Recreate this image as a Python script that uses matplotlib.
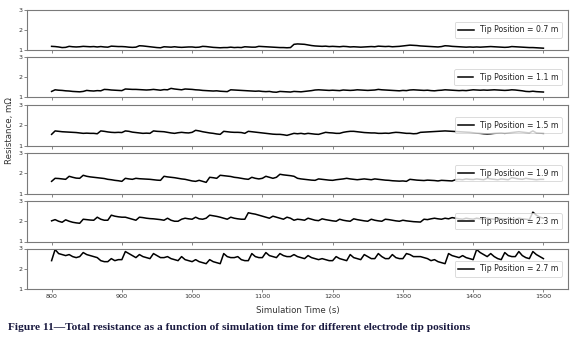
import numpy as np
import matplotlib
matplotlib.use("Agg")
import matplotlib.pyplot as plt

time_s = np.arange(800, 1501, 5)

tip_labels = ["Tip Position = 0.7 m", "Tip Position = 1.1 m", "Tip Position = 1.5 m",
              "Tip Position = 1.9 m", "Tip Position = 2.3 m", "Tip Position = 2.7 m"]

r_07 = [1.18,1.17,1.15,1.12,1.13,1.18,1.16,1.15,1.16,1.18,1.17,1.16,1.17,1.15,1.17,1.15,1.14,1.19,1.18,1.17,
        1.17,1.16,1.14,1.13,1.14,1.21,1.2,1.18,1.16,1.14,1.12,1.11,1.16,1.15,1.14,1.16,1.14,1.13,1.14,1.15,
        1.15,1.13,1.14,1.18,1.17,1.15,1.13,1.12,1.11,1.12,1.12,1.14,1.12,1.13,1.12,1.16,1.15,1.14,1.14,1.18,
        1.17,1.16,1.15,1.14,1.13,1.12,1.12,1.11,1.12,1.28,1.3,1.29,1.28,1.25,1.22,1.2,1.19,1.18,1.19,1.17,
        1.18,1.17,1.16,1.18,1.17,1.15,1.16,1.15,1.14,1.15,1.16,1.17,1.16,1.19,1.18,1.17,1.18,1.16,1.17,1.18,
        1.2,1.22,1.24,1.23,1.22,1.2,1.19,1.18,1.17,1.16,1.15,1.17,1.21,1.2,1.18,1.17,1.16,1.15,1.14,1.15,
        1.14,1.15,1.14,1.15,1.16,1.17,1.16,1.15,1.14,1.13,1.14,1.17,1.16,1.15,1.14,1.13,1.12,1.12,1.11,1.1,
        1.09]

r_11 = [1.3,1.38,1.36,1.35,1.33,1.32,1.3,1.29,1.28,1.3,1.35,1.33,1.32,1.34,1.33,1.4,1.39,1.37,1.36,1.35,
        1.34,1.42,1.41,1.4,1.4,1.39,1.38,1.37,1.38,1.4,1.38,1.36,1.39,1.38,1.45,1.42,1.4,1.38,1.42,1.41,
        1.4,1.38,1.37,1.35,1.34,1.33,1.32,1.33,1.31,1.3,1.29,1.38,1.37,1.36,1.35,1.34,1.33,1.32,1.31,1.32,
        1.3,1.29,1.3,1.27,1.26,1.3,1.29,1.28,1.27,1.3,1.29,1.28,1.3,1.32,1.34,1.37,1.38,1.37,1.36,1.35,
        1.36,1.35,1.34,1.37,1.36,1.35,1.36,1.38,1.37,1.36,1.35,1.36,1.37,1.4,1.38,1.37,1.36,1.35,1.34,1.33,
        1.35,1.34,1.37,1.38,1.37,1.36,1.35,1.36,1.34,1.33,1.35,1.36,1.38,1.37,1.36,1.35,1.34,1.35,1.34,1.36,
        1.38,1.37,1.36,1.37,1.36,1.37,1.38,1.37,1.36,1.35,1.36,1.38,1.37,1.35,1.33,1.3,1.29,1.31,1.29,1.28,
        1.27]

r_15 = [1.55,1.72,1.7,1.68,1.67,1.66,1.65,1.64,1.62,1.6,1.61,1.6,1.6,1.58,1.72,1.7,1.67,1.65,1.64,1.65,
        1.64,1.72,1.7,1.66,1.64,1.62,1.6,1.61,1.6,1.72,1.7,1.69,1.68,1.65,1.62,1.6,1.63,1.65,1.63,1.62,
        1.65,1.75,1.72,1.68,1.65,1.62,1.6,1.57,1.55,1.7,1.68,1.66,1.65,1.65,1.64,1.6,1.7,1.68,1.66,1.64,
        1.62,1.6,1.58,1.56,1.55,1.55,1.53,1.5,1.55,1.6,1.58,1.6,1.57,1.6,1.58,1.56,1.55,1.6,1.65,1.63,
        1.62,1.6,1.6,1.65,1.68,1.7,1.7,1.68,1.66,1.64,1.63,1.62,1.62,1.6,1.6,1.61,1.6,1.63,1.65,1.64,
        1.62,1.6,1.6,1.58,1.59,1.65,1.66,1.67,1.68,1.69,1.7,1.71,1.72,1.71,1.7,1.69,1.68,1.67,1.66,1.65,
        1.63,1.61,1.6,1.58,1.57,1.58,1.6,1.61,1.62,1.6,1.62,1.64,1.66,1.68,1.66,1.64,1.62,1.72,1.62,1.61,
        1.6]

r_19 = [1.6,1.75,1.74,1.72,1.7,1.85,1.8,1.76,1.75,1.9,1.85,1.82,1.8,1.78,1.76,1.74,1.7,1.68,1.65,1.63,
        1.6,1.75,1.72,1.7,1.75,1.73,1.72,1.71,1.7,1.68,1.66,1.65,1.85,1.82,1.8,1.78,1.75,1.72,1.7,1.66,
        1.62,1.6,1.65,1.6,1.55,1.8,1.78,1.75,1.9,1.88,1.86,1.84,1.8,1.78,1.75,1.72,1.7,1.8,1.75,1.72,
        1.75,1.85,1.8,1.75,1.8,1.95,1.92,1.9,1.88,1.85,1.75,1.72,1.7,1.68,1.66,1.65,1.72,1.7,1.68,1.66,
        1.65,1.68,1.7,1.72,1.75,1.72,1.7,1.68,1.7,1.72,1.7,1.68,1.72,1.7,1.68,1.66,1.65,1.63,1.62,1.61,
        1.62,1.6,1.7,1.68,1.66,1.65,1.64,1.66,1.65,1.64,1.62,1.65,1.64,1.63,1.62,1.68,1.7,1.68,1.72,1.7,
        1.69,1.72,1.7,1.68,1.75,1.72,1.7,1.68,1.72,1.7,1.68,1.78,1.75,1.72,1.7,1.75,1.72,1.7,1.68,1.7,
        1.7]

r_23 = [2.02,2.08,2.0,1.95,2.07,2.0,1.95,1.92,1.9,2.1,2.08,2.06,2.05,2.2,2.1,2.05,2.05,2.3,2.25,2.22,
        2.2,2.2,2.15,2.1,2.05,2.2,2.18,2.15,2.13,2.12,2.1,2.08,2.05,2.15,2.05,2.0,2.0,2.1,2.15,2.12,
        2.1,2.2,2.12,2.1,2.15,2.3,2.27,2.24,2.2,2.15,2.1,2.2,2.15,2.12,2.1,2.1,2.42,2.38,2.35,2.3,
        2.25,2.2,2.15,2.25,2.2,2.15,2.1,2.2,2.15,2.05,2.1,2.08,2.05,2.15,2.1,2.05,2.03,2.12,2.08,2.05,
        2.02,2.0,2.1,2.05,2.02,2.0,2.12,2.08,2.05,2.02,2.0,2.1,2.05,2.02,2.0,2.1,2.08,2.05,2.02,2.0,
        2.05,2.02,2.0,1.98,1.97,1.96,2.1,2.08,2.12,2.15,2.12,2.1,2.15,2.12,2.18,2.15,2.12,2.1,2.15,2.12,
        2.1,2.15,2.12,2.1,2.15,2.12,2.1,2.15,2.12,2.1,2.12,2.1,2.08,2.15,2.12,2.1,2.08,2.45,2.3,2.2,
        2.15]

r_27 = [2.4,2.95,2.75,2.7,2.65,2.7,2.6,2.55,2.6,2.8,2.7,2.65,2.6,2.55,2.4,2.35,2.35,2.5,2.4,2.45,
        2.45,2.85,2.75,2.65,2.55,2.7,2.6,2.55,2.5,2.75,2.65,2.55,2.55,2.6,2.5,2.45,2.4,2.6,2.45,2.4,
        2.35,2.45,2.35,2.3,2.25,2.45,2.35,2.3,2.25,2.75,2.6,2.55,2.55,2.6,2.45,2.4,2.4,2.75,2.6,2.55,
        2.55,2.8,2.65,2.6,2.55,2.75,2.65,2.6,2.6,2.7,2.6,2.55,2.5,2.65,2.55,2.5,2.45,2.5,2.45,2.4,
        2.4,2.6,2.5,2.45,2.4,2.7,2.55,2.5,2.45,2.7,2.6,2.5,2.5,2.75,2.6,2.5,2.5,2.7,2.55,2.5,
        2.5,2.75,2.7,2.6,2.6,2.6,2.55,2.5,2.4,2.45,2.35,2.3,2.25,2.75,2.65,2.6,2.55,2.65,2.55,2.5,
        2.45,2.95,2.8,2.7,2.6,2.75,2.6,2.5,2.45,2.8,2.65,2.6,2.6,2.85,2.65,2.55,2.5,2.85,2.7,2.6,
        2.5]

series = [r_07, r_11, r_15, r_19, r_23, r_27]
y_ticks = [1, 2, 3]
x_ticks = [800, 900, 1000, 1100, 1200, 1300, 1400, 1500]

W, H = 577, 346
fig = plt.figure(figsize=(W / 100, H / 100), dpi=100)
fig.patch.set_facecolor("white")

left, right = 27 / W, 568 / W
tops = [9.5, 57, 105, 153, 201, 248.5]
ph = 40.5
spine_col = "#7a7a7a"
axes = []
for i, (vals, lab) in enumerate(zip(series, tip_labels)):
    top = tops[i]
    ax = fig.add_axes([left, 1 - (top + ph) / H, right - left, ph / H])
    ax.plot(time_s, vals, color="black", lw=1.1, label=lab)
    ax.set_ylim(1, 3)
    ax.set_xlim(765, 1535)
    ax.set_yticks(y_ticks)
    ax.set_xticks(x_ticks)
    ax.tick_params(axis="both", labelsize=4.6, length=2, width=0.5, pad=1.5,
                   color="#555555", labelcolor="#333333")
    if i < 5:
        ax.tick_params(axis="x", labelbottom=False)
    for s in ax.spines.values():
        s.set_color(spine_col)
        s.set_linewidth(0.8)
    leg = ax.legend(loc="center right", fontsize=5.6, frameon=True, fancybox=True,
                    handlelength=2.0, borderpad=0.45, labelspacing=0.3, borderaxespad=0.8)
    leg.get_frame().set_edgecolor("#cccccc")
    leg.get_frame().set_linewidth(0.6)
    for t in leg.get_texts():
        t.set_color("#222222")
    axes.append(ax)

fig.text(10 / W, 1 - 131 / H, "Resistance, m\u03a9", rotation=90, ha="center", va="center",
         fontsize=6.2, color="#333333")
fig.text((27 + 568) / 2 / W, 1 - 310 / H, "Simulation Time (s)", ha="center", va="center",
         fontsize=6.2, color="#333333")
fig.text(8 / W, 1 - 328 / H,
         "Figure 11\u2014Total resistance as a function of simulation time for different electrode tip positions",
         ha="left", va="center", fontsize=8.2, fontweight="bold", family="Liberation Serif",
         color="#1a1a40")

fig.savefig("out.png", dpi=100, facecolor="white")
